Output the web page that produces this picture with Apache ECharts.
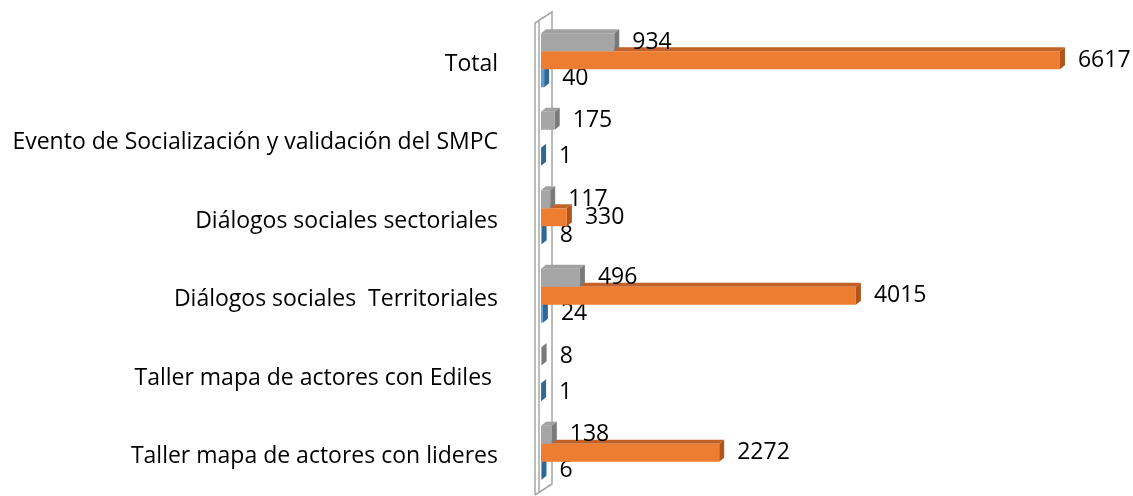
<!DOCTYPE html>
<html lang="es">
<head>
<meta charset="utf-8" />
<title>Participantes</title>
<script src="https://cdn.jsdelivr.net/npm/echarts@6/dist/echarts.min.js"></script>
<style>
  html, body { margin: 0; padding: 0; background: #fff; }
  #main { width: 1133px; height: 496px; }
</style>
</head>
<body>
<div id="main"></div>
<script>
// categories bottom -> top (category axis starts at the bottom)
var categories = [
  'Taller mapa de actores con lideres',
  'Taller mapa de actores con Ediles ',
  'Diálogos sociales  Territoriales',
  'Diálogos sociales sectoriales',
  'Evento de Socialización y validación del SMPC',
  'Total'
];
var blueValues   = [6, 1, 24, 8, 1, 40];
var orangeValues = [2272, null, 4015, 330, null, 6617];
var grayValues   = [138, 8, 496, 117, 175, 934];

var FONT = 'Open Sans';
var FSIZE = 23;
var BAR_H = 18, DX = 5, DY = 4;

function toData(values) {
  var out = [];
  values.forEach(function (v, i) {
    if (v !== null) out.push([v, i]);
  });
  return out;
}

// slot: -1 top (gray), 0 middle (orange), 1 bottom (blue)
function bar3d(slot, front, top, side) {
  return function (params, api) {
    var v = api.value(0), c = api.value(1);
    var p0 = api.coord([0, c]);
    var p1 = api.coord([v, c]);
    var yc = p0[1] - 4 + slot * BAR_H;
    var y0 = yc - BAR_H / 2, y1 = yc + BAR_H / 2;
    var x0 = p0[0], x1 = p1[0];
    return {
      type: 'group',
      children: [
        { type: 'polygon', shape: { points: [[x0, y0], [x0 + DX, y0 - DY], [x1 + DX, y0 - DY], [x1, y0]] }, style: { fill: top } },
        { type: 'polygon', shape: { points: [[x1, y0], [x1 + DX, y0 - DY], [x1 + DX, y1 - DY], [x1, y1]] }, style: { fill: side } },
        { type: 'rect', shape: { x: x0, y: y0, width: x1 - x0, height: BAR_H }, style: { fill: front } },
        { type: 'text', z2: 10, style: { text: String(v), x: x1 + 18, y: yc, verticalAlign: 'middle', align: 'left', fill: '#000', font: FSIZE + 'px "' + FONT + '"' } }
      ]
    };
  };
}

// left 3d wall, drawn from the top category and the band size
function wall(params, api) {
  var p = api.coord([0, api.value(1)]);
  var band = api.size([0, 1])[1];
  var x0 = p[0];
  var top = p[1] - band / 2;
  var bottom = top + band * categories.length;
  var st = { stroke: '#A6A6A6', lineWidth: 1.5, fill: null };
  return {
    type: 'group',
    children: [
      { type: 'polyline', shape: { points: [[x0 - 6, bottom - 1], [x0 - 6, top - 2], [x0 + 11, top - 13], [x0 + 11, bottom - 12], [x0 - 6, bottom - 1]] }, style: st },
      { type: 'line', shape: { x1: x0 - 2, y1: top - 4, x2: x0 - 2, y2: bottom - 3 }, style: st }
    ]
  };
}

var myChart = echarts.init(document.getElementById('main'));

var option = {
  backgroundColor: '#fff',
  animation: false,
  grid: { left: 541, right: 43, top: 25, bottom: 0, containLabel: false, outerBoundsMode: 'none' },
  xAxis: {
    type: 'value', min: 0, max: 7000,
    show: false, splitLine: { show: false }
  },
  yAxis: {
    type: 'category',
    data: categories,
    axisLine: { show: false },
    axisTick: { show: false },
    axisLabel: { margin: 43, color: '#000', fontSize: FSIZE, fontFamily: FONT }
  },
  series: [
    { type: 'custom', name: 'pared', z: 1, silent: true, clip: false,
      data: [[0, categories.length - 1]], encode: { x: 0, y: 1 }, renderItem: wall },
    { type: 'custom', name: 'azul', z: 3, data: toData(blueValues), encode: { x: 0, y: 1 },
      renderItem: bar3d(1, '#5B9BD5', '#4A86BD', '#2F6796') },
    { type: 'custom', name: 'naranja', z: 4, data: toData(orangeValues), encode: { x: 0, y: 1 },
      renderItem: bar3d(0, '#ED7D31', '#C0622A', '#B0561D') },
    { type: 'custom', name: 'gris', z: 5, data: toData(grayValues), encode: { x: 0, y: 1 },
      renderItem: bar3d(-1, '#A5A5A5', '#A0A0A0', '#7A7A7A') }
  ]
};
myChart.setOption(option);
</script>
</body>
</html>
